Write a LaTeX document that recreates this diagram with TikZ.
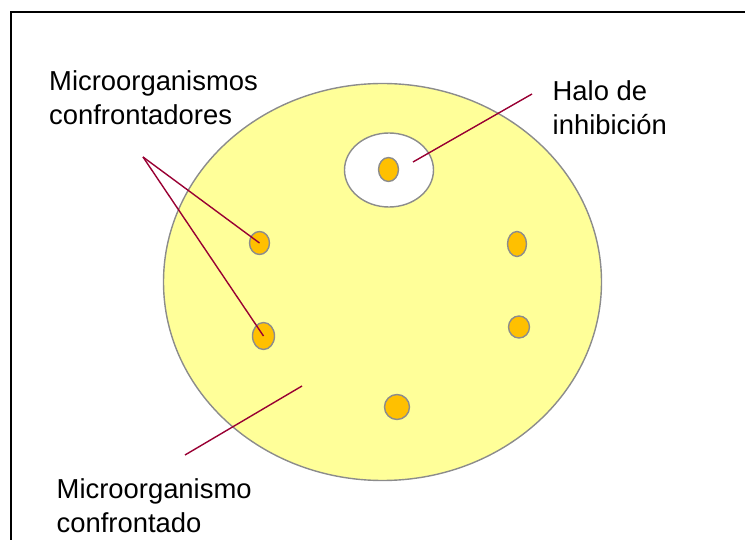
\documentclass[tikz,border=0pt]{standalone}
\usepackage{fontspec}
\setmainfont{Liberation Sans}
\usetikzlibrary{shapes.geometric}

\definecolor{agar}{HTML}{FFFF99}
\definecolor{colony}{HTML}{FFC000}
\definecolor{rim}{HTML}{8C8C8C}
\definecolor{pointer}{HTML}{990033}

\begin{document}
\begin{tikzpicture}[
  x=1pt, y=-1pt,
  font=\fontsize{27.4}{34}\selectfont,
  plate/.style={ellipse, draw=rim, line width=1.4pt, fill=agar, inner sep=0pt},
  halo/.style={ellipse, draw=rim, line width=1.4pt, fill=white, inner sep=0pt},
  colony/.style={ellipse, draw=rim, line width=1.4pt, fill=colony, inner sep=0pt},
  txt/.style={inner sep=0pt, align=left, anchor=north west},
  ptr/.style={draw=pointer, line width=1.4pt},
  frame/.style={draw=black, line width=1.8pt}
]
\useasboundingbox (0,0) rectangle (745,540);

% frame
\draw[frame] (11,540) |- (745,12);

% plate and halo
\node[plate, minimum width=438pt, minimum height=397pt] (agar) at (382.5,282) {};
\node[halo, minimum width=89pt, minimum height=74pt] (halo) at (389,170) {};

% colonies
\node[colony, minimum width=20pt, minimum height=24pt] (c0) at (388.5,169.5) {};
\node[colony, minimum width=20pt, minimum height=23pt] (cA) at (259.5,243) {};
\node[colony, minimum width=22pt, minimum height=27pt] (cB) at (263.5,336) {};
\node[colony, minimum width=19pt, minimum height=25pt] (cC) at (517,244) {};
\node[colony, minimum width=21pt, minimum height=22pt] (cD) at (519,327) {};
\node[colony, minimum width=25pt, minimum height=25pt] (cE) at (397,407) {};

% labels
\node[txt] (lblConf) at (49,70) {Microorganismos\\confrontadores};
\node[txt] (lblHalo) at (552.5,80) {Halo de\\inhibición};
\node[txt] (lblHost) at (56.5,478) {Microorganismo\\confrontado};

% pointers
\coordinate (apex) at (143,157);
\draw[ptr] (apex) -- (cA.center);
\draw[ptr] (apex) -- (cB.center);
\coordinate (haloTip) at (532,94);
\coordinate (haloEnd) at (413,162);
\draw[ptr] (haloTip) -- (haloEnd);
\coordinate (hostTip) at (185,455);
\coordinate (hostEnd) at (302,386);
\draw[ptr] (hostTip) -- (hostEnd);
\end{tikzpicture}
\end{document}
